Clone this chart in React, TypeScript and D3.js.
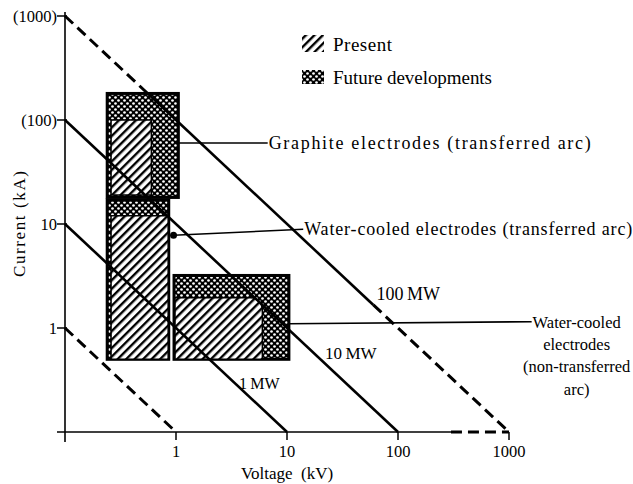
import * as d3 from 'd3';

// axis ticks (kV / kA, log scales)
const xTicks = [1, 10, 100, 1000];
const xTickLabels = ['1', '10', '100', '1000'];
const yTicks = [1, 10, 100, 1000];
const yTickLabels = ['1', '10', '(100)', '(1000)'];

// constant power lines, MW = kV * kA ; segments given as [fromV, toV, dashed]
const powerLines = [
  { mw: 0.1, segs: [[0.1, 1, true]] },
  { mw: 1, segs: [[0.1, 10, false]] },
  { mw: 10, segs: [[0.1, 100, false]] },
  { mw: 100, segs: [[0.1, 0.56, true], [0.56, 60, false], [60, 1000, true]] },
];
const powerLabels = [
  { text: '1\u2009MW', v: 3.7, i: 0.26, size: 16 },
  { text: '10\u2009MW', v: 22, i: 0.5, size: 17 },
  { text: '100\u2009MW', v: 64, i: 1.85, size: 18 },
];

// operating regions: [vMin, vMax, iMin, iMax]
const futureBoxes = [
  [0.24, 1.05, 18, 180],   // graphite
  [0.24, 0.86, 0.5, 17],   // water-cooled transferred
  [0.96, 10.4, 0.5, 3.2],  // water-cooled non-transferred
];
const presentBoxes = [
  [0.26, 0.6, 19, 100],
  [0.26, 0.85, 0.5, 12],
  [0.98, 6, 0.5, 1.95],
];

// annotations: leader from (v0,i0) to (v1,i1), text lines
const notes = [
  { v0: 1.05, i0: 60, v1: 6.7, i1: 60, dot: false, lines: ['Graphite electrodes (transferred arc)'], widths: [322], size: 18, anchor: 'start' },
  { v0: 0.95, i0: 7.8, v1: 14, i1: 8.9, dot: true, lines: ['Water-cooled electrodes (transferred arc)'], widths: [328], size: 18, anchor: 'start' },
  { v0: 10.4, i0: 1.1, v1: 1600, i1: 1.15, dot: false, lines: ['Water-cooled', 'electrodes', '(non-transferred', 'arc)'], widths: [null, null, null, null], size: 16.5, anchor: 'middle' },
];

const W = 633;
const H = 484;
const font = '"Liberation Serif", "DejaVu Serif", serif';
const fs = 16.5;

export default function App() {
  const x = d3.scaleLog().domain([0.1, 1000]).range([65, 509]);
  const y = d3.scaleLog().domain([0.1, 1000]).range([432, 16]);
  const line = d3.line<[number, number]>().x(d => x(d[0])).y(d => y(d[1]));

  const dash = '11 6';

  return (
    <svg width={W} height={H} style={{ position: 'absolute', left: 0, top: 0, background: '#fff' }} fontFamily={font}>
      <defs>
        <pattern id="hatch" width="6" height="6" patternUnits="userSpaceOnUse" patternTransform="rotate(45)">
          <rect width="6" height="6" fill="#fff" />
          <rect x="0" y="0" width="2.4" height="6" fill="#000" />
        </pattern>
        <pattern id="dots" width="6" height="6" patternUnits="userSpaceOnUse">
          <rect width="6" height="6" fill="#000" />
          <circle cx="1.5" cy="1.5" r="1.35" fill="#fff" />
          <circle cx="4.5" cy="4.5" r="1.35" fill="#fff" />
        </pattern>
      </defs>

      {/* regions */}
      {futureBoxes.map((b, k) => (
        <rect key={'f' + k} x={x(b[0])} y={y(b[3])} width={x(b[1]) - x(b[0])} height={y(b[2]) - y(b[3])}
          fill="url(#dots)" stroke="#000" strokeWidth={3} />
      ))}
      {presentBoxes.map((b, k) => {
        const x0 = x(b[0]), x1 = x(b[1]), y0 = y(b[3]), y1 = y(b[2]);
        const r = k === 2 ? 12 : 0;
        const p = d3.path();
        p.moveTo(x0, y1);
        p.lineTo(x0, y0);
        p.lineTo(x1 - r, y0);
        if (r) p.arcTo(x1, y0, x1, y0 + r, r);
        p.lineTo(x1, y1);
        p.closePath();
        return <path key={'p' + k} d={p.toString()} fill="url(#hatch)" stroke="#000" strokeWidth={1.5} />;
      })}

      {/* axes */}
      <line x1={x(0.1)} x2={x(0.1)} y1={12} y2={442} stroke="#000" strokeWidth={1.6} />
      <line x1={57} x2={x(300)} y1={y(0.1)} y2={y(0.1)} stroke="#000" strokeWidth={1.6} />
      <line x1={x(300)} x2={x(1000)} y1={y(0.1)} y2={y(0.1)} stroke="#000" strokeWidth={3} strokeDasharray={dash} />
      {xTicks.map((t, k) => (
        <g key={'xt' + k}>
          <line x1={x(t)} x2={x(t)} y1={y(0.1)} y2={y(0.1) + 8} stroke="#000" strokeWidth={1.5} />
          <text x={x(t)} y={457} textAnchor="middle" fontSize={fs}>{xTickLabels[k]}</text>
        </g>
      ))}
      {yTicks.map((t, k) => (
        <g key={'yt' + k}>
          <line x1={x(0.1) - 8} x2={x(0.1) + 2} y1={y(t)} y2={y(t)} stroke="#000" strokeWidth={1.5} />
          <text x={x(0.1) - 8} y={y(t) + 6} textAnchor="end" fontSize={fs}>{yTickLabels[k]}</text>
        </g>
      ))}
      <text x={x(10)} y={479} textAnchor="middle" fontSize={17} xmlSpace="preserve">Voltage  (kV)</text>
      <text transform={`translate(25,${y(10)}) rotate(-90)`} textAnchor="middle" fontSize={17}
        textLength={106} lengthAdjust="spacing">Current (kA)</text>

      {/* constant power lines */}
      {powerLines.map((pl, k) =>
        pl.segs.map((s, j) => (
          <path key={'pl' + k + '-' + j}
            d={line([[s[0] as number, pl.mw / (s[0] as number)], [s[1] as number, pl.mw / (s[1] as number)]]) || ''}
            fill="none" stroke="#000" strokeWidth={s[2] ? 3 : 2.6} strokeDasharray={s[2] ? dash : undefined} />
        ))
      )}
      {powerLabels.map((l, k) => (
        <text key={'lb' + k} x={x(l.v)} y={y(l.i)} fontSize={l.size}>{l.text}</text>
      ))}

      {/* annotations */}
      {notes.map((n, k) => (
        <g key={'n' + k}>
          <line x1={x(n.v0)} y1={y(n.i0)} x2={x(n.v1)} y2={y(n.i1)} stroke="#000" strokeWidth={1.6} />
          {n.dot && <circle cx={x(n.v0)} cy={y(n.i0)} r={3.5} fill="#000" />}
          {n.lines.map((t, j) => (
            <text key={j}
              x={n.anchor === 'middle' ? x(n.v1) + 45 : x(n.v1) + 1}
              y={y(n.i1) + 6 + j * 22.3}
              textAnchor={n.anchor} fontSize={n.size}
              textLength={n.widths[j] ?? undefined} lengthAdjust="spacing">{t}</text>
          ))}
        </g>
      ))}

      {/* legend */}
      <rect x={302} y={35} width={22} height={17} fill="url(#hatch)" />
      <text x={333} y={51} fontSize={19} textLength={59} lengthAdjust="spacing">Present</text>
      <rect x={302} y={70} width={22} height={14} fill="url(#dots)" />
      <text x={333} y={84} fontSize={19} textLength={159} lengthAdjust="spacing">Future developments</text>
    </svg>
  );
}
